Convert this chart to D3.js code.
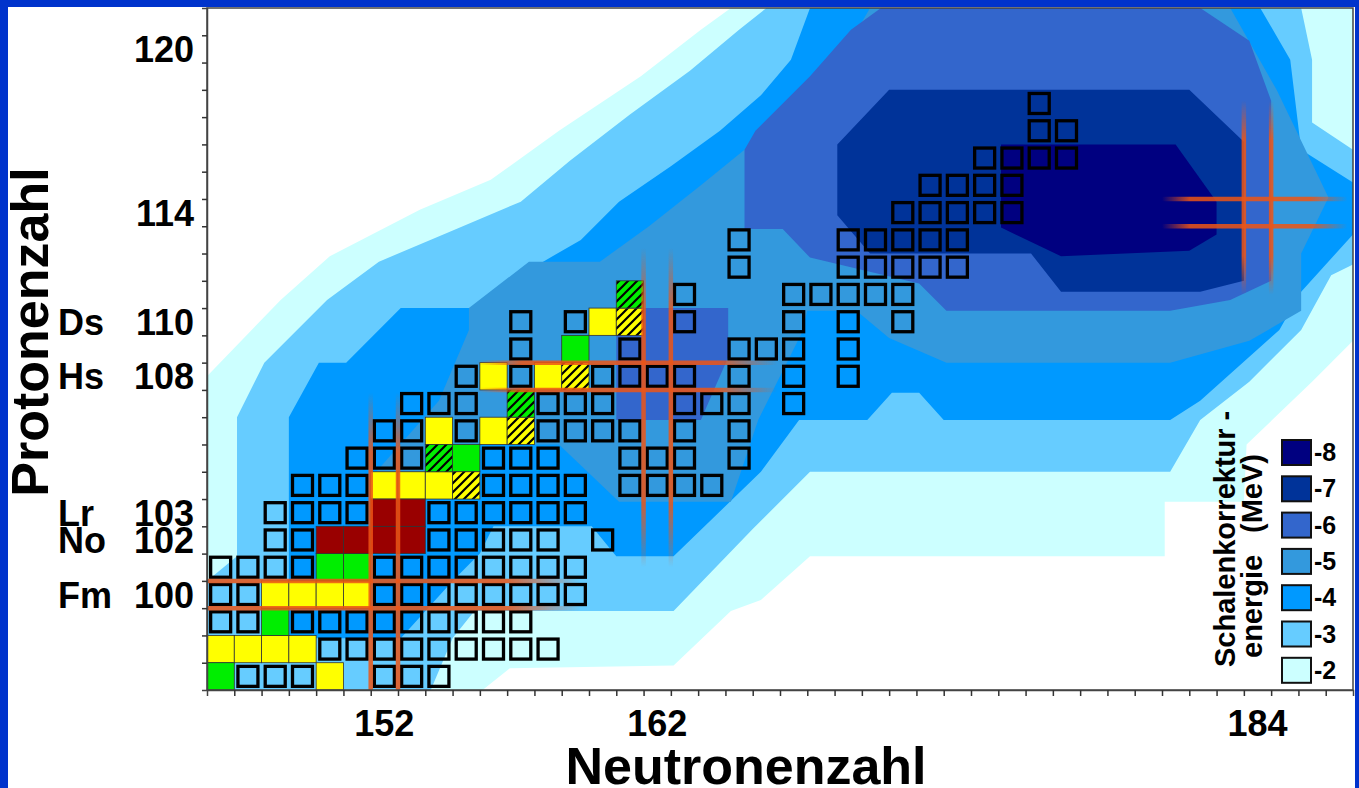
<!DOCTYPE html>
<html><head><meta charset="utf-8">
<script src="https://cdn.jsdelivr.net/npm/d3@7"></script>
<style>body{margin:0;background:#fff}svg{display:block}text{font-family:"Liberation Sans",Arial,sans-serif;font-weight:bold}</style>
</head><body>
<svg id="c" width="1359" height="788"></svg>
<script>
// ---------- data ----------
const levelValues = [-2,-3,-4,-5,-6,-7,-8];
const levelColors = ["#ccffff","#66ccff","#0099ff","#3399dd","#3366cc","#003399","#000080"];
// contour regions (N, Z) of shell-correction energy <= level
const contourM2 = [[145.5,108.0],[148.2,110.8],[150.0,112.4],[153.3,114.1],[155.9,115.2],[158.4,117.0],[161.4,119.0],[163.6,120.7],[164.7,121.5],[187.5,121.5],[187.5,109.3],[186.0,107.8],[183.6,105.5],[183.5,103.4],[180.6,103.4],[180.6,101.4],[167.6,101.4],[165.8,99.8],[164.7,99.4],[162.6,97.4],[156.6,97.3],[155.6,96.5],[145.5,96.5]];
const contourM3 = [[145.5,100.5],[146.6,101.4],[146.6,106.5],[147.6,108.5],[149.9,110.8],[151.8,112.2],[154.4,113.3],[157.0,114.4],[158.8,115.9],[161.0,117.6],[163.2,119.2],[165.0,120.7],[166.0,121.5],[185.6,121.5],[186.0,119.6],[186.0,117.3],[187.5,116.3],[187.5,112.1],[186.7,111.7],[185.6,109.7],[183.7,107.8],[181.9,106.4],[180.8,104.5],[167.6,104.5],[165.5,102.4],[162.6,99.4],[155.3,99.4],[154.5,98.4],[153.7,96.5],[145.5,96.5]];
const contourM4 = [[148.5,98.4],[148.5,106.5],[149.6,108.5],[150.6,108.5],[152.6,110.5],[155.9,110.5],[157.3,111.9],[159.2,113.0],[160.6,114.4],[162.5,115.7],[164.3,117.0],[165.8,118.3],[166.9,119.6],[167.6,121.5],[184.1,121.5],[185.2,119.6],[185.6,116.3],[187.5,115.1],[187.5,113.2],[185.6,111.1],[184.8,109.7],[181.9,107.1],[180.8,106.4],[172.5,106.4],[171.6,107.4],[170.6,107.4],[169.7,106.4],[167.2,106.4],[165.8,104.5],[162.6,101.4],[160.5,101.4],[159.6,102.5],[156.0,102.5],[155.5,101.5],[154.5,100.5],[152.6,98.4]];
const contourM5 = [[151.7,104.5],[154.0,107.1],[155.1,109.7],[155.1,110.5],[157.3,112.2],[159.9,112.2],[161.7,113.5],[163.6,115.0],[165.2,116.3],[166.9,117.7],[168.7,119.6],[169.8,121.5],[183.0,121.5],[184.7,118.5],[186.6,114.55],[185.6,112.5],[185.6,110.4],[183.7,109.3],[180.8,108.5],[172.6,108.5],[170.5,109.4],[169.3,110.4],[167.5,110.4],[167.3,109.6],[165.7,106.4],[164.7,103.4],[160.6,103.4],[158.4,105.5],[155.5,105.5],[155.1,104.5]];
const contourM6 = [[165.6,117.0],[167.6,119.0],[169.1,120.7],[170.2,121.5],[181.9,121.5],[183.7,120.3],[184.5,118.1],[184.5,111.5],[183.0,110.8],[180.8,110.4],[172.6,110.4],[171.6,111.4],[167.6,112.35],[166.6,113.4],[165.2,113.4],[165.2,116.3]];
const contourM6b = [[160.5,109.5],[161.5,110.5],[164.6,110.5],[164.6,108.7],[163.6,106.4],[160.5,106.4]];
const contourM7 = [[168.6,116.5],[170.5,118.5],[181.5,118.5],[183.5,116.6],[183.5,111.5],[181.9,111.1],[176.8,111.1],[175.7,112.5],[169.8,112.5],[168.6,113.9]];
const contourM8 = [[174.6,116.5],[181.0,116.5],[182.5,114.4],[182.5,113.2],[181.5,112.6],[176.8,112.4],[174.6,113.45]];

// known nuclides: rows of [Z, [N...]]
const squareRows = [
 [97,[147,148,149,152,153,154]],
 [98,[150,151,152,153,154,155,156,157,158]],
 [99,[146,147,149,150,151,152,153,154,155,156,157]],
 [100,[146,147,152,153,154,155,156,157,158,159]],
 [101,[146,147,148,149,152,153,154,155,156,157,158,159]],
 [102,[148,149,154,155,156,157,158,160]],
 [103,[148,149,150,151,154,155,156,157,158,159]],
 [104,[149,150,151,156,157,158,159,161,162,163,164]],
 [105,[151,152,153,156,157,158,161,162,163,165]],
 [106,[152,153,155,158,159,160,161,163,165]],
 [107,[153,154,155,158,159,160,163,164,165,167]],
 [108,[155,157,160,161,162,163,165,167,169]],
 [109,[157,161,165,166,167,169]],
 [110,[157,159,163,167,169,171]],
 [111,[163,167,168,169,170,171]],
 [112,[165,169,170,171,172,173]],
 [113,[165,169,170,171,172,173]],
 [114,[171,172,173,174,175]],
 [115,[172,173,174,175]],
 [116,[174,175,176,177]],
 [117,[176,177]],
 [118,[176]]
];
const yellowCells = [[150,97],[146,98],[147,98],[148,98],[149,98],[148,100],[149,100],[150,100],[151,100],[152,104],[153,104],[154,104],[154,106],[156,106],[156,108],[158,108],[160,110]];
const greenCells = [[146,97],[148,99],[150,101],[151,101],[155,105],[159,109]];
const redCells = [[150,102],[151,102],[152,102],[153,102],[152,103],[153,103]];
const hatchedYellowCells = [[155,104],[157,106],[159,108],[161,110]];
const hatchedGreenCells = [[154,105],[157,107],[161,111]];

// magic numbers: shell closures with the extent of their marker lines
const magicN = [152,162,184];
const magicNExtent = [[96.5,107.4],[101.0,112.7],[111.0,118.1]];
const magicZ = [100,108,114];
const magicZExtent = [[145.5,159.2],[155.4,166.4],[180.5,187.3]];

const xTickLabels = [152,162,184];
const yTickLabels = [120,114,110,108,103,102,100];
const elementLabels = [["Ds",110],["Hs",108],["Lr",103],["No",102],["Fm",100]];

// ---------- drawing ----------
const svg = d3.select("#c");
const x = d3.scaleLinear().domain([145.5,187.5]).range([207,1353]);
const y = d3.scaleLinear().domain([96.5,121.5]).range([690,8]);
const cw = x(1)-x(0), ch = y(0)-y(1);

svg.append("rect").attr("width",1359).attr("height",788).attr("fill","#fff");

const defs = svg.append("defs");
defs.append("clipPath").attr("id","plot").append("rect")
  .attr("x",x(145.5)).attr("y",y(121.5)).attr("width",x(187.5)-x(145.5)).attr("height",y(96.5)-y(121.5));
function hatch(id,bg){
  const p = defs.append("pattern").attr("id",id).attr("patternUnits","userSpaceOnUse")
    .attr("width",9).attr("height",9);
  p.append("rect").attr("width",9).attr("height",9).attr("fill",bg);
  p.append("path").attr("d","M-1,10L10,-1M-3,3L3,-3M6,12L12,6").attr("stroke","#000").attr("stroke-width",2.2);
}
hatch("hy","#ffff00"); hatch("hg","#00ee00");
defs.append("filter").attr("id","glow").attr("x","-50%").attr("y","-50%").attr("width","200%").attr("height","200%")
  .append("feGaussianBlur").attr("stdDeviation",1.3);

const plot = svg.append("g").attr("clip-path","url(#plot)");
const line = d3.line().x(d=>x(d[0])).y(d=>y(d[1]));
const contourSets = [[contourM2],[contourM3],[contourM4],[contourM5],[contourM6,contourM6b],[contourM7],[contourM8]];
contourSets.forEach((polys,i)=>{
  polys.forEach(p=>plot.append("path").attr("d",line(p)+"Z").attr("fill",levelColors[i]));
});

// coloured cells
function cells(arr,fill){
  plot.selectAll(null).data(arr).enter().append("rect")
    .attr("x",d=>x(d[0]-0.5)).attr("y",d=>y(d[1]+0.5)).attr("width",cw).attr("height",ch)
    .attr("fill",fill).attr("stroke","#333").attr("stroke-width",0.8);
}
cells(yellowCells,"#ffff00"); cells(greenCells,"#00ee00"); cells(redCells,"#990000");
cells(hatchedYellowCells,"url(#hy)"); cells(hatchedGreenCells,"url(#hg)");

// outline squares
const sq = squareRows.flatMap(([z,ns])=>ns.map(n=>[n,z]));
plot.selectAll(null).data(sq).enter().append("rect")
  .attr("x",d=>x(d[0])-10).attr("y",d=>y(d[1])-10).attr("width",20).attr("height",20)
  .attr("fill","none").attr("stroke","#000").attr("stroke-width",3.3);

// magic-number lines
let gid=0;
function glowLine(x1,y1,x2,y2,fadeA,fadeB){
  const id="g"+(gid++);
  const g=defs.append("linearGradient").attr("id",id).attr("gradientUnits","userSpaceOnUse")
    .attr("x1",x1).attr("y1",y1).attr("x2",x2).attr("y2",y2);
  [[0,fadeA?0:1],[fadeA||0.001,1],[1-(fadeB||0.001),1],[1,fadeB?0:1]].forEach(s=>
    g.append("stop").attr("offset",s[0]).attr("stop-color","#ee5515").attr("stop-opacity",s[1]));
  plot.append("line").attr("x1",x1).attr("y1",y1).attr("x2",x2).attr("y2",y2)
    .attr("stroke",`url(#${id})`).attr("stroke-width",8).attr("opacity",0.45).attr("filter","url(#glow)");
  plot.append("line").attr("x1",x1).attr("y1",y1).attr("x2",x2).attr("y2",y2)
    .attr("stroke",`url(#${id})`).attr("stroke-width",4.5).attr("opacity",0.85);
}
magicN.forEach((n,i)=>{
  const [z0,z1]=magicNExtent[i];
  [-0.5,0.5].forEach(o=>glowLine(x(n+o),y(z0),x(n+o),y(z1), z0<=96.5?0:0.2, 0.2));
});
magicZ.forEach((z,i)=>{
  const [n0,n1]=magicZExtent[i];
  [-0.5,0.5].forEach(o=>glowLine(x(n0),y(z+o),x(n1),y(z+o), n0<=145.5?0:0.15, 0.2));
});

// axes
const axG = svg.append("g");
axG.append("rect").attr("x",x(145.5)).attr("y",y(121.5)).attr("width",x(187.5)-x(145.5)).attr("height",y(96.5)-y(121.5))
  .attr("fill","none").attr("stroke","#444").attr("stroke-width",1.5);
const bx = axG.append("g").attr("transform",`translate(0,${y(96.5)})`)
  .call(d3.axisBottom(x).tickValues(d3.range(146.5,187,1)).tickSize(6).tickFormat(""));
const ly = axG.append("g").attr("transform",`translate(${x(145.5)},0)`)
  .call(d3.axisLeft(y).tickValues(d3.range(97.5,121,1)).tickSize(5).tickFormat(""));
[bx,ly].forEach(g=>{g.select(".domain").attr("stroke","#444").attr("stroke-width",1.5);g.selectAll("line").attr("stroke","#333").attr("stroke-width",1.5);});

svg.selectAll(null).data(xTickLabels).enter().append("text")
  .attr("x",d=>x(d)).attr("y",736).attr("text-anchor","middle").attr("font-size",36).text(d=>d);
svg.selectAll(null).data(yTickLabels).enter().append("text")
  .attr("x",194).attr("y",d=>y(d)+13).attr("text-anchor","end").attr("font-size",36).text(d=>d);
svg.selectAll(null).data(elementLabels).enter().append("text")
  .attr("x",58).attr("y",d=>y(d[1])+13).attr("font-size",36).text(d=>d[0]);

svg.append("text").attr("x",746).attr("y",784).attr("text-anchor","middle").attr("font-size",52).text("Neutronenzahl");
svg.append("text").attr("transform","translate(48,332) rotate(-90)").attr("text-anchor","middle").attr("font-size",52).text("Protonenzahl");

// legend
const lg = svg.append("g");
levelValues.slice().reverse().forEach((v,i)=>{
  const idx = levelValues.length-1-i;
  const yy = 440 + i*36.3;
  lg.append("rect").attr("x",1282).attr("y",yy).attr("width",29).attr("height",25)
    .attr("fill",levelColors[idx]).attr("stroke","#111").attr("stroke-width",2);
  lg.append("text").attr("x",1314).attr("y",yy+21).attr("font-size",25).text(v);
});
lg.append("text").attr("transform","translate(1235,667) rotate(-90)").attr("font-size",29).text("Schalenkorrektur -");
lg.append("text").attr("transform","translate(1262,658) rotate(-90)").attr("font-size",29).text("energie");
lg.append("text").attr("transform","translate(1262,533) rotate(-90)").attr("font-size",29).text("(MeV)");

// blue frame
svg.append("rect").attr("x",0).attr("y",0).attr("width",8).attr("height",788).attr("fill","#0033cc");
svg.append("rect").attr("x",0).attr("y",0).attr("width",1359).attr("height",7).attr("fill","#0033cc");
svg.append("rect").attr("x",1355).attr("y",0).attr("width",4).attr("height",788).attr("fill","#0033cc");
</script></body></html>
